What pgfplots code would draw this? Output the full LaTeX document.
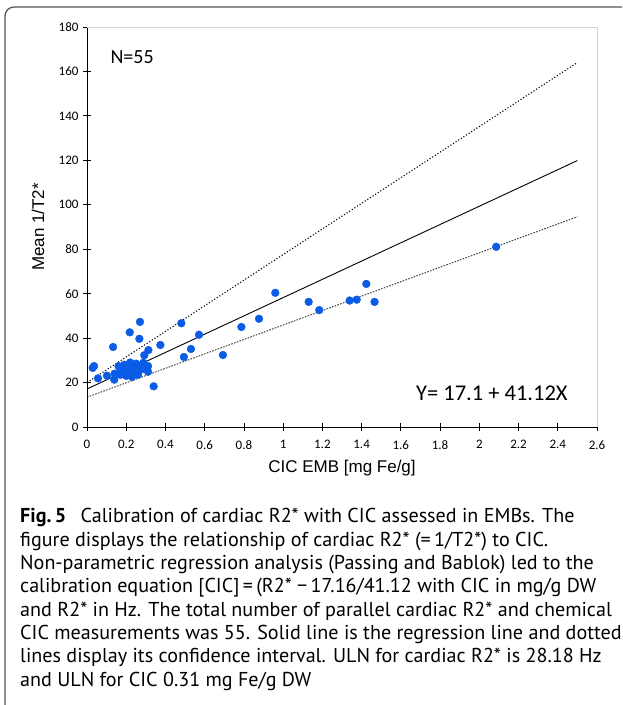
\documentclass[border=0pt]{standalone}
\usepackage{fontspec}
\setmainfont{PT Sans}
\newfontfamily\carlito{Carlito}
\newfontfamily\arial{Liberation Sans}
\usepackage{pgfplots}
\pgfplotsset{compat=1.18}
\definecolor{ptblue}{HTML}{0A5CE6}
\definecolor{framegray}{HTML}{555555}
\definecolor{boxgray}{HTML}{D4D4D4}

\pgfplotstableread{
x y
0.029 26.6
0.036 27.4
0.056 21.9
0.102 23.1
0.141 24.0
0.139 21.3
0.133 36.0
0.161 27.4
0.218 42.6
0.270 47.3
0.267 39.7
0.313 34.6
0.292 32.3
0.340 18.3
0.374 36.9
0.481 46.7
0.571 41.5
0.494 31.5
0.530 35.1
0.693 32.4
0.787 45.0
0.877 48.7
0.960 60.4
1.130 56.3
1.184 52.6
1.339 56.9
1.375 57.3
1.424 64.4
1.466 56.3
2.086 81.1
0.311 27.4
0.311 24.9
0.287 28.9
0.17 25.5
0.18 27.0
0.19 24.5
0.19 28.0
0.20 26.0
0.20 23.0
0.21 25.0
0.21 27.5
0.22 24.0
0.22 26.5
0.22 29.0
0.23 22.5
0.23 25.5
0.24 27.0
0.24 24.0
0.25 26.0
0.25 28.5
0.26 25.0
0.26 23.5
0.27 27.5
0.28 26.0
0.17 23.5
}\pts

\begin{document}
\begin{tikzpicture}[x=1pt,y=1pt]
\useasboundingbox (0,0) rectangle (622,705);
\clip (0,0) rectangle (622,705);
\draw[framegray, line width=1.3pt, rounded corners=9pt] (5,-10) -- (5,698) -- (640,698);
\begin{axis}[
  at={(87pt,278pt)}, anchor=south west,
  scale only axis, width=510pt, height=400pt,
  xmin=0, xmax=2.6, ymin=0, ymax=180,
  axis x line*=bottom, axis y line*=left,
  axis line style={line width=0.8pt, -},
  tick align=center, major tick length=8pt,
  tick style={black, line width=0.8pt},
  xtick={0,0.2,0.4,0.6,0.8,1,1.2,1.4,1.6,1.8,2,2.2,2.4,2.6},
  xticklabels={0,0.2,0.4,0.6,0.8,1,1.2,1.4,1.6,1.8,2,2.2,2.4,2.6},
  ytick={0,20,40,60,80,100,120,140,160,180},
  yticklabels={0,20,40,60,80,100,120,140,160,180},
  ticklabel style={font=\carlito\fontsize{13}{15}\selectfont},
  xticklabel style={yshift=-6pt},
  yticklabel style={xshift=-1pt},
  xlabel={CIC EMB [mg Fe/g]},
  ylabel={Mean 1/T2*},
  label style={font=\arial\fontsize{17}{20}\selectfont},
  xlabel style={at={(axis description cs:0.5,-0.103)}, anchor=center},
  ylabel style={at={(axis description cs:-0.096,0.5)}, anchor=center, rotate=0},
  clip=false,
]
\draw[boxgray, line width=0.8pt] (axis cs:0,180) -- (axis cs:2.6,180) -- (axis cs:2.6,0);
\addplot[black, line width=0.9pt, no marks] coordinates {(0,17.1) (2.5,119.9)};
\addplot[black, line width=1.1pt, dotted, no marks] coordinates {(0,20.0) (2.5,164.0)};
\addplot[black!80, line width=0.9pt, dash pattern=on 1.6pt off 1.3pt, no marks] coordinates {(0,13.4) (2.5,94.6)};
\addplot[only marks, mark=*, mark size=3.9pt, ptblue, mark options={draw=ptblue, fill=ptblue}] table[x=x, y=y] {\pts};
\node[font=\carlito\fontsize{20}{24}\selectfont] at (axis cs:0.23,166.5) {N=55};
\node[font=\carlito\fontsize{22.5}{26}\selectfont] at (axis cs:2.064,15.3) {Y= 17.1 + 41.12X};
\end{axis}
\begin{scope}[every node/.style={anchor=base west, inner sep=0pt, font=\fontsize{20.1}{23}\selectfont}]
\node at (20,182) {\textbf{Fig.\,5}\hspace{0.45em} Calibration of cardiac R2* with CIC assessed in EMBs. The};
\node at (20,158.7) {figure displays the relationship of cardiac R2* (=\,1/T2*) to CIC.};
\node at (20,135.4) {Non-parametric regression analysis (Passing and Bablok) led to the};
\node at (20,112.1) {calibration equation [CIC]\,=\,(R2* −\,17.16/41.12 with CIC in mg/g DW};
\node at (20,88.8) {and R2* in Hz. The total number of parallel cardiac R2* and chemical};
\node at (20,65.5) {CIC measurements was 55. Solid line is the regression line and dotted};
\node at (20,42.2) {lines display its confidence interval. ULN for cardiac R2* is 28.18 Hz};
\node at (20,18.9) {and ULN for CIC 0.31 mg Fe/g DW};
\end{scope}
\end{tikzpicture}
\end{document}
